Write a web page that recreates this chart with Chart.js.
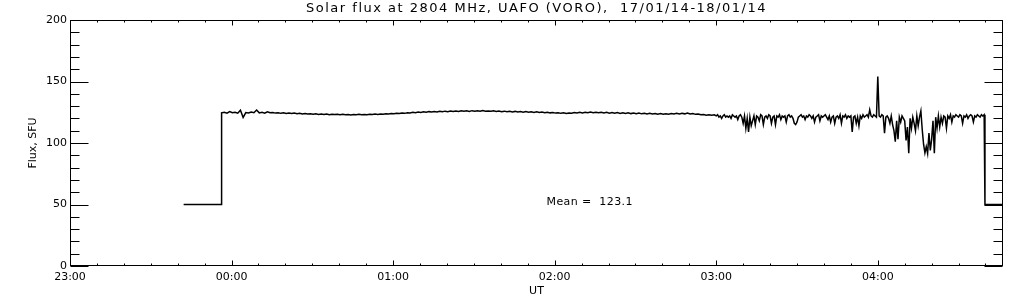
<!DOCTYPE html>
<html>
<head>
<meta charset="utf-8">
<script src="https://cdn.jsdelivr.net/npm/chart.js@4.4.1/dist/chart.umd.min.js"></script>
<style>
  html, body { margin: 0; padding: 0; background: #fff; }
  canvas { display: block; }
</style>
</head>
<body>
<canvas id="fluxChart" width="1024" height="307"></canvas>
<script>
// solar flux record, x in minutes after 23:00 UT

const titleText = 'Solar flux at 2804 MHz, UAFO (VORO),  17/01/14-18/01/14';
const meanLabel = 'Mean =  123.1';

// flat 50 SFU before the record starts
const preTimes = [42.2, 56.3];
const preFlux = [50, 50];

// quiet part, one sample a minute from 23:56
const quietStart = 56.3;
const quietStep = 1;
const quietFlux = [
    124.5, 125.0, 124.3, 125.6, 124.6, 124.9, 124.2, 126.6, 120.8, 124.7,
    124.4, 125.2, 124.6, 126.8, 124.5, 124.9, 124.3, 125.4, 124.6, 124.8,
    124.3, 124.6, 124.1, 124.5, 124.0, 124.4, 123.9, 124.3, 123.8, 124.1,
    123.6, 124.0, 123.5, 123.8, 123.3, 123.7, 123.2, 123.6, 123.1, 123.5,
    123.0, 123.4, 123.1, 123.3, 122.9, 123.3, 123.0, 123.2, 122.8, 123.2,
    123.0, 123.3, 122.9, 123.2, 123.0, 123.4, 123.1, 123.5, 123.2, 123.6,
    123.3, 123.8, 123.5, 124.0, 123.7, 124.2, 123.9, 124.4, 124.1, 124.6,
    124.4, 124.9, 124.6, 125.1, 124.8, 125.3, 125.0, 125.5, 125.2, 125.6,
    125.3, 125.8, 125.4, 125.9, 125.5, 126.0, 125.6, 126.1, 125.7, 126.2,
    125.8, 126.2, 125.7, 126.3, 125.9, 126.2, 125.8, 126.4, 125.9, 126.1,
    125.8, 126.2, 125.7, 126.0, 125.5, 125.9, 125.4, 125.8, 125.3, 125.7,
    125.2, 125.6, 125.1, 125.5, 125.0, 125.4, 124.9, 125.3, 124.8, 125.2,
    124.7, 125.0, 124.5, 124.8, 124.3, 124.6, 124.1, 124.5, 124.0, 124.4,
    124.2, 124.7, 124.4, 124.9, 124.5, 125.0, 124.6, 125.1, 124.7, 125.0,
    124.6, 125.0, 124.5, 124.9, 124.3, 124.8, 124.2, 124.7, 124.1, 124.6,
    124.0, 124.5, 123.9, 124.4, 123.8, 124.3, 123.7, 124.2, 123.6, 124.1,
    123.5, 124.0, 123.4, 123.9, 123.3, 123.8, 123.4, 124.0, 123.5, 124.1,
    123.6, 124.2, 123.7, 124.4, 123.6, 124.0, 123.3, 123.6, 122.9, 123.2,
    122.6, 123.0, 122.5, 122.9
];

// noisy part, one sample every 30 s from 03:00
const noisyStart = 240;
const noisyStep = 0.5;
const noisyFlux = [
    122, 123, 121, 122, 120, 122, 123, 121, 122, 121,
    122, 120, 123, 122, 121, 122, 119, 122, 123, 121,
    116, 122, 112, 120, 109, 121, 114, 118, 122, 115,
    122, 121, 118, 123, 122, 115, 121, 122, 120, 123,
    122, 116, 121, 122, 115, 122, 121, 123, 119, 122,
    121, 122, 117, 122, 123, 121, 122, 120, 116, 115,
    117, 121, 122, 123, 121, 122, 119, 122, 121, 123,
    122, 120, 122, 117, 121, 122, 123, 118, 122, 121,
    122, 123, 121, 119, 122, 117, 121, 122, 116, 121,
    122, 120, 123, 116, 122, 121, 123, 120, 122, 121,
    122, 109, 121, 122, 116, 121, 114, 122, 120, 123,
    121, 122, 123, 121, 127, 122, 121, 123, 122, 121,
    154, 122, 121, 123, 122, 108, 121, 122, 120, 116,
    122, 115, 110, 101, 118, 103, 121, 117, 122, 120,
    118, 102, 113, 91.6, 120, 112, 121, 116, 110, 122,
    114, 121, 126, 111, 99, 92, 97, 91.5, 108, 94,
    103, 118, 91.6, 121, 112, 122, 113, 121, 116, 122,
    121, 112, 122, 120, 123, 117, 122, 121, 123, 122,
    121, 123, 122, 116, 122, 121, 123, 120, 122, 123,
    122, 117, 122, 121, 123, 122, 121, 123, 122, 123
];

// back to 50 SFU after the record ends
const postTimes = [339.8, 346.5];
const postFlux = [50, 50];

const xMax = 346.5;
const xTickStep = 10;   // minor ticks every 10 min, labels every hour
const yTickStep = 10;   // minor ticks every 10 SFU, labels every 50

const points = [];
preTimes.forEach((t, i) => points.push({ x: t, y: preFlux[i] }));
quietFlux.forEach((v, i) => points.push({ x: quietStart + i * quietStep, y: v }));
noisyFlux.forEach((v, i) => points.push({ x: noisyStart + i * noisyStep, y: v }));
postTimes.forEach((t, i) => points.push({ x: t, y: postFlux[i] }));

const tickFont = { family: "'DejaVu Sans', sans-serif", size: 11 };

function utLabel(v) {
    const h = (23 + Math.floor(v / 60)) % 24;
    return String(h).padStart(2, '0') + ':00';
}

// IDL style frame: inward ticks on all four sides, title and mean text
const axisDecor = {
    id: 'axisDecor',
    afterDraw(chart) {
        const { ctx, chartArea: a, scales: { x, y } } = chart;
        const L = Math.round(a.left) + 0.5, R = Math.round(a.right) - 0.5;
        const T = Math.round(a.top) + 0.5, B = Math.round(a.bottom) - 0.5;
        ctx.save();
        ctx.strokeStyle = '#000';
        ctx.lineWidth = 1;
        ctx.strokeRect(L, T, R - L, B - T);
        ctx.beginPath();
        y.ticks.forEach(t => {
            if (t.value % yTickStep) return;
            const py = Math.round(y.getPixelForValue(t.value)) + 0.5;
            const len = t.value % 50 === 0 ? 18 : 9;
            ctx.moveTo(L, py); ctx.lineTo(L + len, py);
            ctx.moveTo(R, py); ctx.lineTo(R - len, py);
        });
        x.ticks.forEach(t => {
            if (t.value % xTickStep) return;
            const px = Math.round(x.getPixelForValue(t.value)) + 0.5;
            const len = t.value % 60 === 0 ? 5 : 2;
            ctx.moveTo(px, B); ctx.lineTo(px, B - len);
            ctx.moveTo(px, T); ctx.lineTo(px, T + len);
        });
        ctx.stroke();

        ctx.fillStyle = '#000';
        ctx.textAlign = 'center';
        ctx.textBaseline = 'middle';
        ctx.font = "13px 'DejaVu Sans'";
        ctx.letterSpacing = '1.5px';
        ctx.fillText(titleText, (a.left + a.right) / 2, 9);
        ctx.letterSpacing = '0.4px';
        ctx.font = "11px 'DejaVu Sans'";
        ctx.fillText(meanLabel, x.getPixelForValue(193), y.getPixelForValue(52));
        ctx.restore();
    }
};

new Chart(document.getElementById('fluxChart'), {
    type: 'line',
    data: {
        datasets: [{
            label: 'Flux',
            data: points,
            borderColor: '#000',
            borderWidth: 1.5,
            pointRadius: 0,
            tension: 0,
            fill: false
        }]
    },
    options: {
        responsive: false,
        animation: false,
        layout: { padding: { left: 0, right: 21, top: 20, bottom: 0 } },
        plugins: {
            legend: { display: false },
            tooltip: { enabled: false }
        },
        scales: {
            x: {
                type: 'linear',
                min: 0,
                max: xMax,
                grid: { display: false, drawTicks: false },
                border: { display: false },
                ticks: {
                    stepSize: xTickStep,
                    includeBounds: false,
                    autoSkip: false,
                    maxRotation: 0,
                    padding: 5,
                    color: '#000',
                    font: tickFont,
                    callback: v => (v % 60 === 0 ? utLabel(v) : '')
                },
                title: {
                    display: true,
                    text: 'UT',
                    color: '#000',
                    font: tickFont,
                    padding: { top: 0, bottom: 9 }
                },
                afterFit: s => { s.height = 41; }
            },
            y: {
                min: 0,
                max: 200,
                grid: { display: false, drawTicks: false },
                border: { display: false },
                ticks: {
                    stepSize: yTickStep,
                    autoSkip: false,
                    padding: 3,
                    color: '#000',
                    font: tickFont,
                    callback: v => (v % 50 === 0 ? v : '')
                },
                title: {
                    display: true,
                    text: 'Flux, SFU',
                    color: '#000',
                    font: tickFont,
                    padding: { top: 27, bottom: 0 }
                },
                afterFit: s => { s.width = 70; }
            }
        }
    },
    plugins: [axisDecor]
});
</script>
</body>
</html>
